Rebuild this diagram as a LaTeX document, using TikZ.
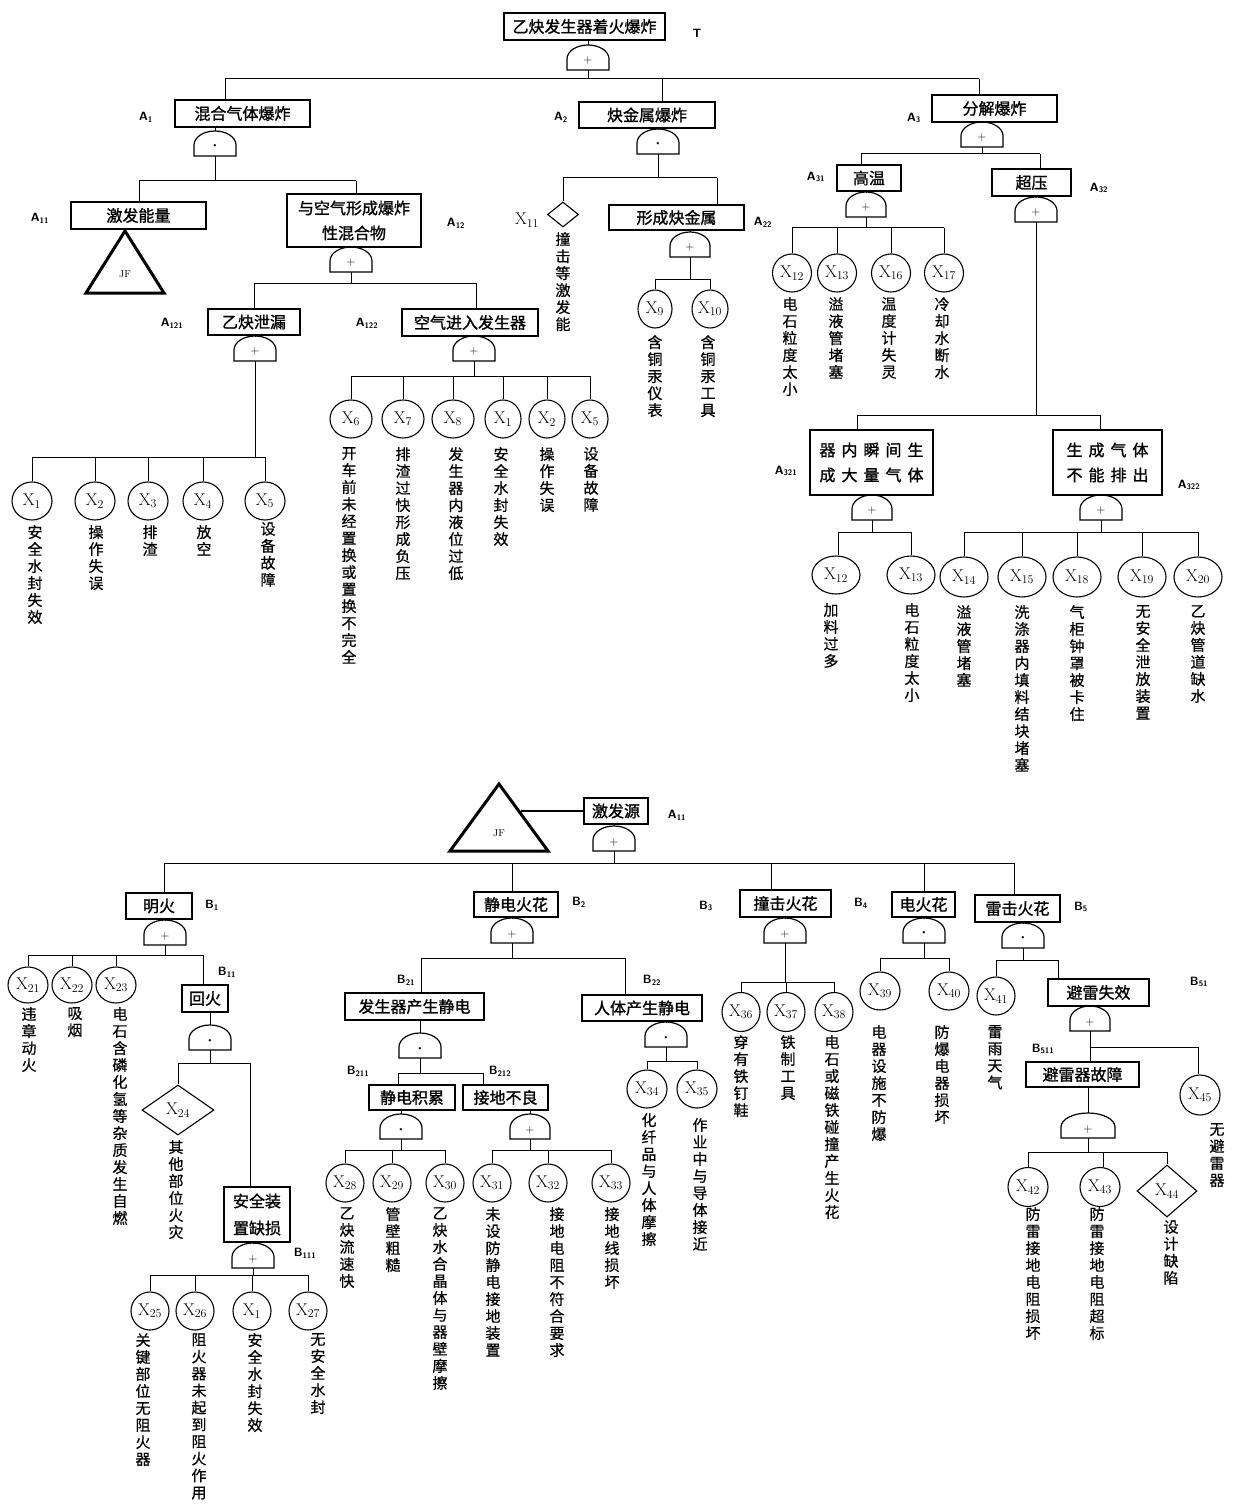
\documentclass[tikz,border=0pt]{standalone}
\usepackage{fontspec}
\newfontfamily\cjk[FakeBold=1.2]{Noto Sans CJK SC}
\newfontfamily\cjkl[FakeBold=0.6]{Noto Sans CJK SC}
\usetikzlibrary{shapes.geometric}
\makeatletter
\newcommand\vtxt[1]{\vbox{\baselineskip=17pt\lineskiplimit=-30pt\lineskip=0pt\@tfor\vch:=#1\do{\hbox to 16pt{\hss\vch\hss}}}}
\makeatother
\newcommand\Xs[1]{X\textsubscript{#1}}
\newcommand\Id[2]{#1\textsubscript{#2}}
\newcommand\lsp{\hspace{6pt}}
\newcommand\andsym{\raisebox{1pt}{\fontsize{8}{8}\selectfont\textbullet}}
\newcommand\orsym{+}
\tikzset{
 conn/.style={line width=1pt},
 gateln/.style={line width=1.2pt},
 evt/.style={draw, line width=1.4pt, rectangle, inner sep=0pt, align=center, font=\cjk\fontsize{16}{25}\selectfont},
 be/.style={draw, ellipse, line width=1.1pt, inner sep=0pt, minimum width=40pt, minimum height=38pt, font=\fontsize{17}{17}\selectfont},
 ud/.style={draw, diamond, line width=1.1pt, inner sep=0pt, font=\fontsize{17}{17}\selectfont},
 vlab/.style={inner sep=0pt, anchor=north, font=\cjkl\fontsize{15}{17}\selectfont},
 idl/.style={inner sep=0pt, font=\sffamily\bfseries\fontsize{12}{12}\selectfont},
 xl/.style={inner sep=0pt, font=\fontsize{17}{17}\selectfont},
 gsym/.style={inner sep=0pt, font=\fontsize{12}{12}\selectfont},
 tri/.style={line width=3pt, line join=miter},
 jf/.style={inner sep=0pt, font=\fontsize{10}{10}\selectfont},
}
\newcommand\fgate[5]{%
  \coordinate (#1-b) at (#2,-#3);
  \coordinate (#1-t) at (#2,{25-#3});
  \draw[gateln] ({#2-#5},-#3) -- ++(0,11) arc[start angle=180,end angle=0,x radius=#5pt,y radius=14pt] -- ({#2+#5},-#3) -- cycle;
  \node[gsym] (#1) at (#2,{9-#3}) {#4};}
\newcommand\dropto[4]{%
  \coordinate (#1) at (#2,-#3);
  \draw[conn] (#1) -- (#1 |- #4.north);}
\begin{document}
\begin{tikzpicture}[x=1pt,y=1pt]
\fill[white] (0,0) rectangle (1240,-1506);
\useasboundingbox (0,0) rectangle (1240,-1506);

% ================= TOP TREE =================
\node[evt,minimum width=161pt,minimum height=27pt] (T) at (584.5,-26.5) {乙炔发生器着火爆炸};
\node[idl] (lT) at (697,-33) {T};
\fgate{gT}{588}{70}{\orsym}{21}
\draw[conn] (T.south -| gT-t) -- (gT-t);

\node[evt,minimum width=135pt,minimum height=27pt] (A1) at (242.5,-113.5) {混合气体爆炸};
\node[idl] (lA1) at (146,-117) {\Id{A}{1}};
\node[evt,minimum width=136pt,minimum height=26pt] (A2) at (647,-115) {炔金属爆炸};
\node[idl] (lA2) at (561,-117) {\Id{A}{2}};
\node[evt,minimum width=125pt,minimum height=27pt] (A3) at (994.5,-108.5) {分解爆炸};
\node[idl] (lA3) at (914,-118) {\Id{A}{3}};
\dropto{jA1}{225}{79}{A1}
\dropto{jA2}{662}{79}{A2}
\dropto{jA3}{979}{79}{A3}
\draw[conn] (jA1) -- (jA3);
\draw[conn] (gT-b) -- (gT-b |- jA1);

% ---- A1
\fgate{gA1}{215}{156}{\andsym}{21}
\draw[conn] (A1.south -| gA1-t) -- (gA1-t);
\node[evt,minimum width=135pt,minimum height=27pt] (A11) at (138.5,-215.5) {激发能量};
\node[idl] (lA11) at (40,-218) {\Id{A}{11}};
\node[evt,minimum width=134pt,minimum height=53pt] (A12) at (354,-220.5) {与空气形成爆炸\\性混合物};
\node[idl] (lA12) at (456,-223) {\Id{A}{12}};
\dropto{jA11}{139}{181}{A11}
\dropto{jA12}{356}{181}{A12}
\draw[conn] (jA11) -- (jA12);
\draw[conn] (gA1-b) -- (gA1-b |- jA11);
\node[jf] (JF1) at (125,-274) {JF};
\draw[tri] (125,-231) -- (164,-293) -- (86,-293) -- cycle;

% ---- A12
\fgate{gA12}{351}{272}{\orsym}{21}
\draw[conn] (A12.south -| gA12-t) -- (gA12-t);
\node[evt,minimum width=92pt,minimum height=26pt] (A121) at (254,-322) {乙炔泄漏};
\node[idl] (lA121) at (172,-323) {\Id{A}{121}};
\node[evt,minimum width=136pt,minimum height=27pt] (A122) at (470,-322.5) {空气进入发生器};
\node[idl] (lA122) at (367,-323) {\Id{A}{122}};
\dropto{jA121}{254}{283}{A121}
\dropto{jA122}{476}{283}{A122}
\draw[conn] (jA121) -- (jA122);
\draw[conn] (gA12-b) -- (gA12-b |- jA121);

% ---- A121
\fgate{gA121}{255}{361}{\orsym}{21}
\draw[conn] (A121.south -| gA121-t) -- (gA121-t);
\node[be] (X1a) at (32,-501) {\Xs{1}};
\node[be] (X2a) at (95,-501) {\Xs{2}};
\node[be] (X3a) at (148,-501) {\Xs{3}};
\node[be] (X4a) at (203,-501) {\Xs{4}};
\node[be] (X5a) at (265,-501) {\Xs{5}};
\dropto{jX1a}{32}{457}{X1a}
\dropto{jX2a}{95}{457}{X2a}
\dropto{jX3a}{148}{457}{X3a}
\dropto{jX4a}{203}{457}{X4a}
\dropto{jX5a}{265}{457}{X5a}
\draw[conn] (jX1a) -- (jX5a);
\draw[conn] (gA121-b) -- (gA121-b |- jX1a);
\node[vlab] (tX1a) at (35,-525) {\vtxt{安全水封失效}};
\node[vlab] (tX2a) at (96,-525) {\vtxt{操作失误}};
\node[vlab] (tX3a) at (150,-525) {\vtxt{排渣}};
\node[vlab] (tX4a) at (204,-525) {\vtxt{放空}};
\node[vlab] (tX5a) at (268,-522) {\vtxt{设备故障}};

% ---- A122
\fgate{gA122}{474}{361}{\orsym}{21}
\draw[conn] (A122.south -| gA122-t) -- (gA122-t);
\node[be,minimum width=42pt] (X6) at (351,-419) {\Xs{6}};
\node[be,minimum width=42pt] (X7) at (403,-419) {\Xs{7}};
\node[be,minimum width=42pt] (X8) at (453,-419) {\Xs{8}};
\node[be,minimum width=36pt] (X1b) at (503,-419) {\Xs{1}};
\node[be,minimum width=36pt] (X2b) at (547,-419) {\Xs{2}};
\node[be,minimum width=36pt] (X5b) at (590,-419) {\Xs{5}};
\dropto{jX6}{351}{376}{X6}
\dropto{jX7}{403}{376}{X7}
\dropto{jX8}{453}{376}{X8}
\dropto{jX1b}{503}{376}{X1b}
\dropto{jX2b}{547}{376}{X2b}
\dropto{jX5b}{590}{376}{X5b}
\draw[conn] (jX6) -- (jX5b);
\draw[conn] (gA122-b) -- (gA122-b |- jX6);
\node[vlab] (tX6) at (349,-447) {\vtxt{开车前未经置换或置换不完全}};
\node[vlab] (tX7) at (403,-447) {\vtxt{排渣过快形成负压}};
\node[vlab] (tX8) at (456,-447) {\vtxt{发生器内液位过低}};
\node[vlab] (tX1b) at (501,-447) {\vtxt{安全水封失效}};
\node[vlab] (tX2b) at (547,-447) {\vtxt{操作失误}};
\node[vlab] (tX5b) at (591,-447) {\vtxt{设备故障}};

% ---- A2
\fgate{gA2}{658}{154}{\andsym}{21}
\draw[conn] (A2.south -| gA2-t) -- (gA2-t);
\node[ud,minimum width=31pt,minimum height=25pt] (X11) at (563,-214.5) {};
\node[xl] (lX11) at (527,-220) {\Xs{11}};
\node[evt,minimum width=135pt,minimum height=25pt] (A22) at (676.5,-217.5) {形成炔金属};
\node[idl] (lA22) at (763,-222) {\Id{A}{22}};
\dropto{jX11}{563}{178}{X11}
\dropto{jA22}{717}{178}{A22}
\draw[conn] (jX11) -- (jA22);
\draw[conn] (gA2-b) -- (gA2-b |- jX11);
\node[vlab] (tX11) at (563,-232) {\vtxt{撞击等激发能}};

\fgate{gA22}{690}{257}{\orsym}{20}
\draw[conn] (A22.south -| gA22-t) -- (gA22-t);
\node[be,minimum width=34pt] (X9) at (655,-309) {\Xs{9}};
\node[be,minimum width=36pt] (X10) at (710,-309) {\Xs{10}};
\dropto{jX9}{655}{279}{X9}
\dropto{jX10}{710}{279}{X10}
\draw[conn] (jX9) -- (jX10);
\draw[conn] (gA22-b) -- (gA22-b |- jX9);
\node[vlab] (tX9) at (655,-335) {\vtxt{含铜汞仪表}};
\node[vlab] (tX10) at (708,-335) {\vtxt{含铜汞工具}};

% ---- A3
\fgate{gA3}{982}{147}{\orsym}{21}
\draw[conn] (A3.south -| gA3-t) -- (gA3-t);
\node[evt,minimum width=64pt,minimum height=26pt] (A31) at (869,-178) {高温};
\node[idl] (lA31) at (816,-177) {\Id{A}{31}};
\node[evt,minimum width=79pt,minimum height=27pt] (A32) at (1031.5,-182.5) {超压};
\node[idl] (lA32) at (1099,-188) {\Id{A}{32}};
\dropto{jA31}{861}{154}{A31}
\dropto{jA32}{1040}{154}{A32}
\draw[conn] (jA31) -- (jA32);
\draw[conn] (gA3-b) -- (gA3-b |- jA31);

\fgate{gA31}{866}{217}{\orsym}{20}
\draw[conn] (A31.south -| gA31-t) -- (gA31-t);
\node[be,minimum width=39pt] (X12a) at (792,-273) {\Xs{12}};
\node[be,minimum width=39pt] (X13a) at (837,-273) {\Xs{13}};
\node[be,minimum width=39pt] (X16) at (891,-273) {\Xs{16}};
\node[be,minimum width=39pt] (X17) at (944,-273) {\Xs{17}};
\dropto{jX12a}{792}{228}{X12a}
\dropto{jX13a}{837}{228}{X13a}
\dropto{jX16}{891}{228}{X16}
\dropto{jX17}{944}{228}{X17}
\draw[conn] (jX12a) -- (jX17);
\draw[conn] (gA31-b) -- (gA31-b |- jX12a);
\node[vlab] (tX12a) at (790,-297) {\vtxt{电石粒度太小}};
\node[vlab] (tX13a) at (836,-297) {\vtxt{溢液管堵塞}};
\node[vlab] (tX16) at (889,-297) {\vtxt{温度计失灵}};
\node[vlab] (tX17) at (942,-297) {\vtxt{冷却水断水}};

\fgate{gA32}{1036}{222}{\orsym}{21}
\draw[conn] (A32.south -| gA32-t) -- (gA32-t);
\node[evt,minimum width=123pt,minimum height=65pt] (A321) at (871.5,-462.5) {器\lsp 内\lsp 瞬\lsp 间\lsp 生\\成\lsp 大\lsp 量\lsp 气\lsp 体};
\node[idl] (lA321) at (786,-471) {\Id{A}{321}};
\node[evt,minimum width=109pt,minimum height=65pt] (A322) at (1107.5,-462.5) {生\lsp 成\lsp 气\lsp 体\\不\lsp 能\lsp 排\lsp 出};
\node[idl] (lA322) at (1189,-485) {\Id{A}{322}};
\dropto{jA321}{857}{415}{A321}
\dropto{jA322}{1100}{415}{A322}
\draw[conn] (jA321) -- (jA322);
\draw[conn] (gA32-b) -- (gA32-b |- jA321);

\fgate{gA321}{872}{520}{\orsym}{20}
\draw[conn] (A321.south -| gA321-t) -- (gA321-t);
\node[be,minimum width=48pt] (X12b) at (836,-575) {\Xs{12}};
\node[be,minimum width=48pt] (X13b) at (911,-575) {\Xs{13}};
\dropto{jX12b}{838}{532}{X12b}
\dropto{jX13b}{911}{532}{X13b}
\draw[conn] (jX12b) -- (jX13b);
\draw[conn] (gA321-b) -- (gA321-b |- jX12b);
\node[vlab] (tX12b) at (831,-603) {\vtxt{加料过多}};
\node[vlab] (tX13b) at (912,-603) {\vtxt{电石粒度太小}};

\fgate{gA322}{1101}{520}{\orsym}{21}
\draw[conn] (A322.south -| gA322-t) -- (gA322-t);
\node[be,minimum width=48pt,minimum height=40pt] (X14) at (964,-577) {\Xs{14}};
\node[be,minimum width=48pt,minimum height=40pt] (X15) at (1022,-577) {\Xs{15}};
\node[be,minimum width=48pt,minimum height=40pt] (X18) at (1077,-577) {\Xs{18}};
\node[be,minimum width=48pt,minimum height=40pt] (X19) at (1142,-577) {\Xs{19}};
\node[be,minimum width=48pt,minimum height=40pt] (X20) at (1198,-577) {\Xs{20}};
\dropto{jX14}{964}{532}{X14}
\dropto{jX15}{1022}{532}{X15}
\dropto{jX18}{1077}{532}{X18}
\dropto{jX19}{1142}{532}{X19}
\dropto{jX20}{1198}{532}{X20}
\draw[conn] (jX14) -- (jX20);
\draw[conn] (gA322-b) -- (gA322-b |- jX14);
\node[vlab] (tX14) at (964,-605) {\vtxt{溢液管堵塞}};
\node[vlab] (tX15) at (1022,-605) {\vtxt{洗涤器内填料结块堵塞}};
\node[vlab] (tX18) at (1077,-605) {\vtxt{气柜钟罩被卡住}};
\node[vlab] (tX19) at (1143,-605) {\vtxt{无安全泄放装置}};
\node[vlab] (tX20) at (1198,-605) {\vtxt{乙炔管道缺水}};

% ================= BOTTOM TREE =================
\node[jf] (JF2) at (499,-833) {JF};
\draw[tri] (499,-784) -- (548,-851) -- (450,-851) -- cycle;
\coordinate (JFr) at (521,-811);
\node[evt,minimum width=64pt,minimum height=26pt] (A11b) at (616,-811) {激发源};
\node[idl] (lA11b) at (677,-815) {\Id{A}{11}};
\draw[line width=2.2pt] (JFr) -- (JFr -| A11b.west);
\fgate{gA11b}{614}{851}{\orsym}{21}
\draw[conn] (A11b.south -| gA11b-t) -- (gA11b-t);

\node[evt,minimum width=66pt,minimum height=26pt] (B1) at (159,-906) {明火};
\node[idl] (lB1) at (212,-905) {\Id{B}{1}};
\node[evt,minimum width=84pt,minimum height=25pt] (B2) at (516,-904.5) {静电火花};
\node[idl] (lB2) at (579,-902) {\Id{B}{2}};
\node[evt,minimum width=91pt,minimum height=27pt] (B3) at (785.5,-903.5) {撞击火花};
\node[idl] (lB3) at (706,-906) {\Id{B}{3}};
\node[evt,minimum width=63pt,minimum height=25pt] (B4) at (923.5,-904.5) {电火花};
\node[idl] (lB4) at (861,-903) {\Id{B}{4}};
\node[evt,minimum width=85pt,minimum height=27pt] (B5) at (1017.5,-908.5) {雷击火花};
\node[idl] (lB5) at (1081,-907) {\Id{B}{5}};
\dropto{jB1}{164}{863}{B1}
\dropto{jB2}{512}{863}{B2}
\dropto{jB3}{771}{863}{B3}
\dropto{jB4}{924}{863}{B4}
\dropto{jB5}{1014}{863}{B5}
\draw[conn] (jB1) -- (jB5);
\draw[conn] (gA11b-b) -- (gA11b-b |- jB1);

% ---- B1
\fgate{gB1}{165}{945}{\orsym}{21}
\draw[conn] (B1.south -| gB1-t) -- (gB1-t);
\node[be,minimum height=36pt] (X21) at (28,-985) {\Xs{21}};
\node[be,minimum height=36pt] (X22) at (72,-985) {\Xs{22}};
\node[be,minimum height=36pt] (X23) at (116,-985) {\Xs{23}};
\node[evt,minimum width=46pt,minimum height=27pt] (B11) at (205,-998.5) {回火};
\node[idl] (lB11) at (227,-972) {\Id{B}{11}};
\dropto{jX21}{28}{955}{X21}
\dropto{jX22}{72}{955}{X22}
\dropto{jX23}{116}{955}{X23}
\dropto{jB11}{203}{955}{B11}
\draw[conn] (jX21) -- (jB11);
\draw[conn] (gB1-b) -- (gB1-b |- jX21);
\node[vlab] (tX21) at (29,-1007) {\vtxt{违章动火}};
\node[vlab] (tX22) at (75,-1007) {\vtxt{吸烟}};
\node[vlab] (tX23) at (120,-1007) {\vtxt{电石含磷化氢等杂质发生自燃}};

% ---- B11
\fgate{gB11}{210}{1050}{\andsym}{21}
\draw[conn] (B11.south -| gB11-t) -- (gB11-t);
\node[ud,minimum width=72pt,minimum height=50pt] (X24) at (178,-1110) {\Xs{24}};
\node[evt,minimum width=66pt,minimum height=55pt,font=\cjk\fontsize{16}{27}\selectfont] (B111) at (257,-1214.5) {安全装\\置缺损};
\node[idl] (lB111) at (305,-1253) {\Id{B}{111}};
\dropto{jX24}{178}{1063}{X24}
\dropto{jB111}{250}{1063}{B111}
\draw[conn] (jX24) -- (jB111);
\draw[conn] (gB11-b) -- (gB11-b |- jX24);
\node[vlab] (tX24) at (176,-1140) {\vtxt{其他部位火灾}};

\fgate{gB111}{253}{1268}{\orsym}{21}
\draw[conn] (B111.south -| gB111-t) -- (gB111-t);
\node[be,minimum width=38pt] (X25) at (150,-1311) {\Xs{25}};
\node[be,minimum width=38pt] (X26) at (195,-1311) {\Xs{26}};
\node[be,minimum width=38pt] (X1c) at (252,-1311) {\Xs{1}};
\node[be,minimum width=38pt] (X27) at (308,-1311) {\Xs{27}};
\dropto{jX25}{150}{1275}{X25}
\dropto{jX26}{195}{1275}{X26}
\dropto{jX1c}{252}{1275}{X1c}
\dropto{jX27}{308}{1275}{X27}
\draw[conn] (jX25) -- (jX27);
\draw[conn] (gB111-b) -- (gB111-b |- jX25);
\node[vlab] (tX25) at (143,-1333) {\vtxt{关键部位无阻火器}};
\node[vlab] (tX26) at (199,-1333) {\vtxt{阻火器未起到阻火作用}};
\node[vlab] (tX1c) at (255,-1333) {\vtxt{安全水封失效}};
\node[vlab] (tX27) at (318,-1333) {\vtxt{无安全水封}};

% ---- B2
\fgate{gB2}{512}{943}{\orsym}{21}
\draw[conn] (B2.south -| gB2-t) -- (gB2-t);
\node[evt,minimum width=139pt,minimum height=27pt] (B21) at (414.5,-1006.5) {发生器产生静电};
\node[idl] (lB21) at (406,-980) {\Id{B}{21}};
\node[evt,minimum width=120pt,minimum height=26pt] (B22) at (642,-1008) {人体产生静电};
\node[idl] (lB22) at (652,-980) {\Id{B}{22}};
\dropto{jB21}{421}{958}{B21}
\dropto{jB22}{625}{958}{B22}
\draw[conn] (jB21) -- (jB22);
\draw[conn] (gB2-b) -- (gB2-b |- jB21);

\fgate{gB21}{420}{1058}{\andsym}{21}
\draw[conn] (B21.south -| gB21-t) -- (gB21-t);
\node[evt,minimum width=86pt,minimum height=25pt] (B211) at (412,-1097.5) {静电积累};
\node[idl] (lB211) at (358,-1071) {\Id{B}{211}};
\node[evt,minimum width=85pt,minimum height=25pt] (B212) at (505.5,-1097.5) {接地不良};
\node[idl] (lB212) at (500,-1071) {\Id{B}{212}};
\dropto{jB211}{398}{1073}{B211}
\dropto{jB212}{483}{1073}{B212}
\draw[conn] (jB211) -- (jB212);
\draw[conn] (gB21-b) -- (gB21-b |- jB211);

\fgate{gB211}{401}{1139}{\andsym}{21}
\draw[conn] (B211.south -| gB211-t) -- (gB211-t);
\node[be,minimum width=38pt] (X28) at (345,-1183) {\Xs{28}};
\node[be,minimum width=38pt] (X29) at (392,-1183) {\Xs{29}};
\node[be,minimum width=38pt] (X30) at (445,-1183) {\Xs{30}};
\dropto{jX28}{345}{1150}{X28}
\dropto{jX29}{392}{1150}{X29}
\dropto{jX30}{445}{1150}{X30}
\draw[conn] (jX28) -- (jX30);
\draw[conn] (gB211-b) -- (gB211-b |- jX28);
\node[vlab] (tX28) at (347,-1207) {\vtxt{乙炔流速快}};
\node[vlab] (tX29) at (393,-1207) {\vtxt{管壁粗糙}};
\node[vlab] (tX30) at (440,-1207) {\vtxt{乙炔水合晶体与器壁摩擦}};

\fgate{gB212}{530}{1139}{\orsym}{20}
\draw[conn] (B212.south -| gB212-t) -- (gB212-t);
\node[be,minimum width=38pt] (X31) at (492,-1183) {\Xs{31}};
\node[be,minimum width=38pt] (X32) at (548,-1183) {\Xs{32}};
\node[be,minimum width=38pt] (X33) at (611,-1183) {\Xs{33}};
\dropto{jX31}{492}{1150}{X31}
\dropto{jX32}{548}{1150}{X32}
\dropto{jX33}{611}{1150}{X33}
\draw[conn] (jX31) -- (jX33);
\draw[conn] (gB212-b) -- (gB212-b |- jX31);
\node[vlab] (tX31) at (493,-1207) {\vtxt{未设防静电接地装置}};
\node[vlab] (tX32) at (557,-1207) {\vtxt{接地电阻不符合要求}};
\node[vlab] (tX33) at (612,-1207) {\vtxt{接地线损坏}};

\fgate{gB22}{666}{1047}{\andsym}{21}
\draw[conn] (B22.south -| gB22-t) -- (gB22-t);
\node[be] (X34) at (647,-1089) {\Xs{34}};
\node[be] (X35) at (697,-1089) {\Xs{35}};
\dropto{jX34}{647}{1061}{X34}
\dropto{jX35}{697}{1061}{X35}
\draw[conn] (jX34) -- (jX35);
\draw[conn] (gB22-b) -- (gB22-b |- jX34);
\node[vlab] (tX34) at (649,-1113) {\vtxt{化纤品与人体摩擦}};
\node[vlab] (tX35) at (700,-1118) {\vtxt{作业中与导体接近}};

% ---- B3
\fgate{gB3}{785}{943}{\orsym}{21}
\draw[conn] (B3.south -| gB3-t) -- (gB3-t);
\node[be,minimum width=38pt,minimum height=39pt] (X36) at (741,-1012) {\Xs{36}};
\node[be,minimum width=38pt,minimum height=39pt] (X37) at (786,-1012) {\Xs{37}};
\node[be,minimum width=38pt,minimum height=39pt] (X38) at (834,-1012) {\Xs{38}};
\dropto{jX36}{741}{982}{X36}
\dropto{jX37}{786}{982}{X37}
\dropto{jX38}{834}{982}{X38}
\draw[conn] (jX36) -- (jX38);
\draw[conn] (gB3-b) -- (gB3-b |- jX36);
\node[vlab] (tX36) at (741,-1035) {\vtxt{穿有铁钉鞋}};
\node[vlab] (tX37) at (788,-1035) {\vtxt{铁制工具}};
\node[vlab] (tX38) at (832,-1035) {\vtxt{电石或磁铁碰撞产生火花}};

% ---- B4
\fgate{gB4}{924}{943}{\andsym}{21}
\draw[conn] (B4.south -| gB4-t) -- (gB4-t);
\node[be] (X39) at (880,-991) {\Xs{39}};
\node[be] (X40) at (949,-991) {\Xs{40}};
\dropto{jX39}{880}{958}{X39}
\dropto{jX40}{949}{958}{X40}
\draw[conn] (jX39) -- (jX40);
\draw[conn] (gB4-b) -- (gB4-b |- jX39);
\node[vlab] (tX39) at (879,-1025) {\vtxt{电器设施不防爆}};
\node[vlab] (tX40) at (942,-1025) {\vtxt{防爆电器损坏}};

% ---- B5
\fgate{gB5}{1023}{948}{\andsym}{21}
\draw[conn] (B5.south -| gB5-t) -- (gB5-t);
\node[be,minimum width=38pt] (X41) at (996,-996) {\Xs{41}};
\node[evt,minimum width=101pt,minimum height=27pt] (B51) at (1098.5,-992.5) {避雷失效};
\node[idl] (lB51) at (1199,-982) {\Id{B}{51}};
\dropto{jX41}{996}{960}{X41}
\dropto{jB51}{1058}{960}{B51}
\draw[conn] (jX41) -- (jB51);
\draw[conn] (gB5-b) -- (gB5-b |- jX41);
\node[vlab] (tX41) at (995,-1025) {\vtxt{雷雨天气}};

\fgate{gB51}{1090}{1031}{\orsym}{20}
\draw[conn] (B51.south -| gB51-t) -- (gB51-t);
\node[evt,minimum width=113pt,minimum height=25pt] (B511) at (1082.5,-1074.5) {避雷器故障};
\node[idl] (lB511) at (1043,-1049) {\Id{B}{511}};
\node[be,minimum height=40pt] (X45) at (1200,-1095) {\Xs{45}};
\draw[conn] (gB51-b) -- (gB51-b |- B511.north);
\coordinate (jB51x) at (1090,-1047);
\dropto{jX45}{1198}{1047}{X45}
\draw[conn] (jB51x) -- (jX45);
\node[vlab] (tX45) at (1217,-1123) {\vtxt{无避雷器}};

\fgate{gB511}{1088}{1138}{\orsym}{27}
\draw[conn] (B511.south -| gB511-t) -- (gB511-t);
\node[be,minimum height=39pt] (X42) at (1028,-1187) {\Xs{42}};
\node[be,minimum height=39pt] (X43) at (1100,-1187) {\Xs{43}};
\node[ud,minimum width=60pt,minimum height=52pt] (X44) at (1167,-1191) {\Xs{44}};
\dropto{jX42}{1028}{1152}{X42}
\dropto{jX43}{1103}{1152}{X43}
\dropto{jX44}{1167}{1152}{X44}
\draw[conn] (jX42) -- (jX44);
\draw[conn] (gB511-b) -- (gB511-b |- jX42);
\node[vlab] (tX42) at (1033,-1207) {\vtxt{防雷接地电阻损坏}};
\node[vlab] (tX43) at (1097,-1207) {\vtxt{防雷接地电阻超标}};
\node[vlab] (tX44) at (1171,-1220) {\vtxt{设计缺陷}};
\end{tikzpicture}
\end{document}
